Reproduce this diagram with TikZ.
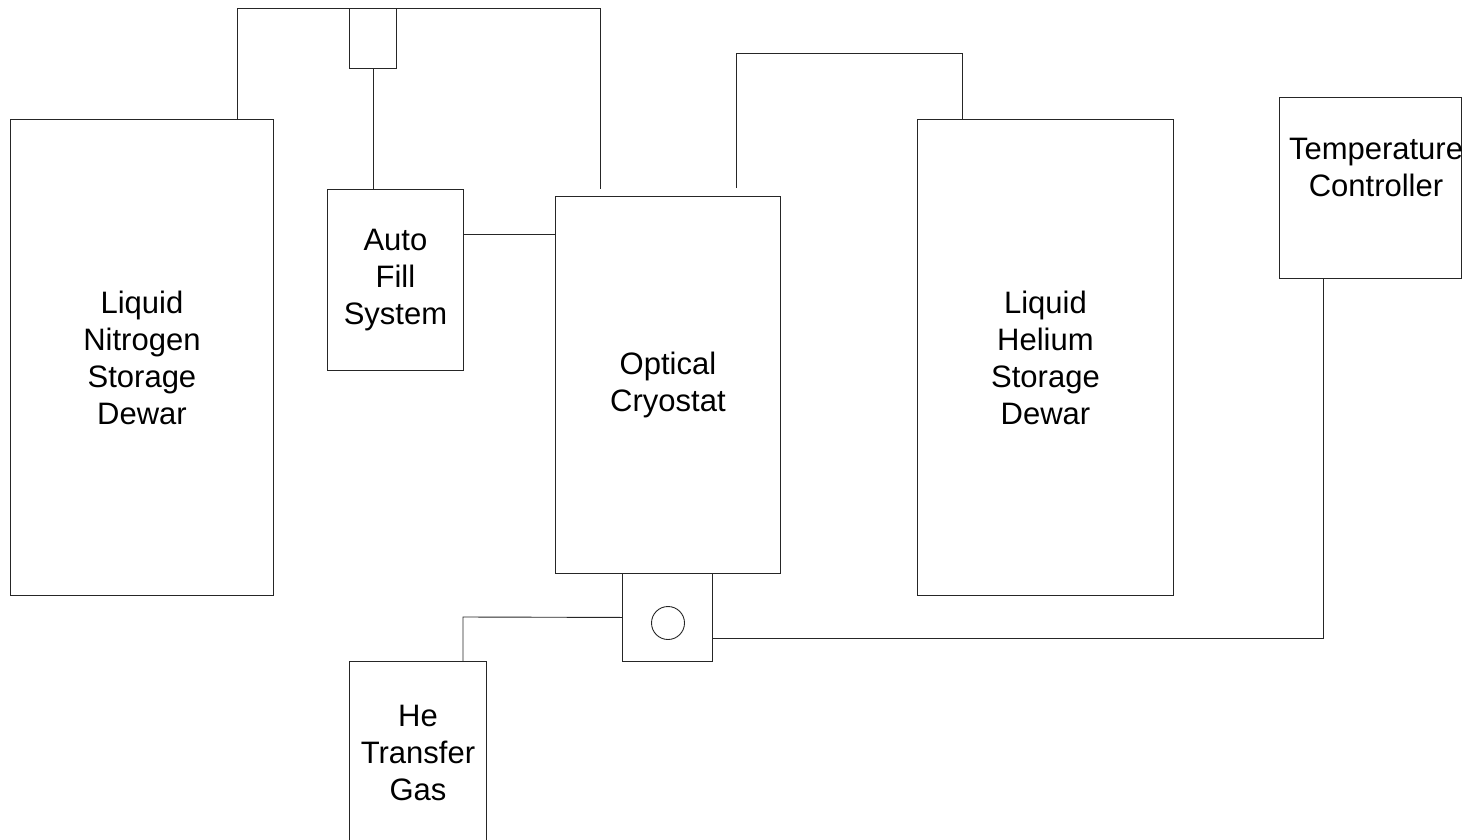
\documentclass[tikz,border=0pt]{standalone}
\usepackage{fontspec}
\setmainfont{Liberation Sans}
\begin{document}
\begin{tikzpicture}[x=1pt,y=-1pt,
  ln/.style={line width=0.9pt,draw=black!85},
  box/.style={ln,rectangle,inner sep=0pt,anchor=north west,align=center,
    font=\fontsize{31}{37}\selectfont},
  lbl/.style={inner sep=0pt,align=center,font=\fontsize{31}{37}\selectfont}]
\useasboundingbox (0,0) rectangle (1472,840);
\clip (0,0) rectangle (1472,840);
% boxes
\node[box,minimum width=263pt,minimum height=476pt] (lnd) at (10,119) {Liquid\\Nitrogen\\Storage\\Dewar};
\node[box,minimum width=47pt,minimum height=60pt] (valve) at (349,8) {};
\node[box,minimum width=136pt,minimum height=181pt] (af) at (327,189) {Auto\\Fill\\System};
\node[box,minimum width=225pt,minimum height=377pt] (cryo) at (555,196) {Optical\\Cryostat};
\node[box,minimum width=256pt,minimum height=476pt] (hed) at (917,119) {Liquid\\Helium\\Storage\\Dewar};
\node[box,minimum width=182pt,minimum height=181pt] (tc) at (1279,97) {};
\node[lbl] (tctext) at (1376,167) {Temperature\\Controller};
\node[box,minimum width=90pt,minimum height=88pt] (bb) at (622,573) {};
\node[ln,circle,inner sep=0pt,minimum size=33pt] (win) at (668,623) {};
\node[box,minimum width=137pt,minimum height=200pt] (ht) at (349,661) {};
\node[lbl] (httext) at (418,753) {He\\Transfer\\Gas};
% free-end coordinates
\coordinate (p1) at (237,8);
\coordinate (p2) at (600,8);
\coordinate (p3) at (600,189);
\coordinate (q1) at (736,188);
\coordinate (q2) at (962,53);
\coordinate (r1) at (1323,638);
\coordinate (s1) at (463,617);
\coordinate (c234) at (0,234);
% connectors
\draw[ln] (lnd.north -| p1) -- (p1) -- (valve.north west);
\draw[ln] (valve.north east) -- (p2) -- (p3);
\draw[ln] (valve.south) -- (valve.south |- af.north);
\draw[ln] (af.east |- c234) -- (cryo.west |- c234);
\draw[ln] (q1) |- (q2) -- (hed.north -| q2);
\draw[ln] (tc.south -| r1) -- (r1) -- (bb.east |- r1);
\draw[ln] (bb.west) -- (s1) -- (ht.north -| s1);
\end{tikzpicture}
\end{document}
